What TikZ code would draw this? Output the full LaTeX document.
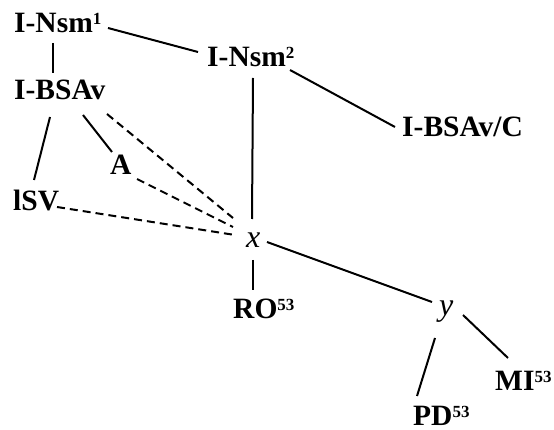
\documentclass[tikz,border=0pt]{standalone}
\usepackage{fontspec}
\setmainfont{Liberation Serif}
\usetikzlibrary{calc}
% small raised index numbers, top aligned with the capitals
\newcommand{\idx}[1]{\raisebox{8pt}{\fontsize{17}{18}\selectfont\bfseries #1}}
\tikzset{
  x=1pt, y=-1pt,
  lbl/.style={font=\fontsize{29.5}{31}\selectfont\bfseries, inner sep=0pt, anchor=base west},
  var/.style={font=\fontsize{32}{34}\selectfont\itshape, inner sep=0pt, anchor=base west},
  edge/.style={line width=2pt},
  dedge/.style={line width=2pt, dash pattern=on 8pt off 5pt},
}
\begin{document}
\begin{tikzpicture}
\useasboundingbox (0,0) rectangle (554,430);
% labels, placed by their baselines
\node[lbl] (nsm1)  at (14,33)   {I-Nsm\idx{1}};
\node[lbl] (bsav)  at (14,100)  {I-BSAv};
\node[lbl] (nsm2)  at (207,67)  {I-Nsm\idx{2}};
\node[lbl] (bsavc) at (402,137) {I-BSAv/C};
\node[lbl] (A)     at (110,175) {A};
\node[lbl] (lsv)   at (13,211)  {lSV};
\node[var] (x)     at (246,248) {x};
\node[lbl] (ro)    at (233,318) {RO\idx{53}};
\node[var] (y)     at (439,316) {y};
\node[lbl] (mi)    at (495,390) {MI\idx{53}};
\node[lbl] (pd)    at (413,425) {PD\idx{53}};
% solid connectors
\draw[edge] ($(nsm1.base west)+(39,10)$)  -- ($(bsav.base west)+(39,-27)$);
\draw[edge] ($(nsm1.base west)+(94,-5)$)  -- ($(nsm2.base west)+(-9,-15)$);
\draw[edge] ($(nsm2.base west)+(46,11)$)  -- ($(x.base west)+(6,-29)$);
\draw[edge] ($(nsm2.base west)+(83,3)$)   -- ($(bsavc.base west)+(-7,-10)$);
\draw[edge] ($(bsav.base west)+(36,17)$)  -- ($(lsv.base west)+(21,-31)$);
\draw[edge] ($(bsav.base west)+(69,15)$)  -- ($(A.base west)+(2,-23)$);
\draw[edge] ($(x.base west)+(7,12)$)      -- ($(ro.base west)+(20,-28)$);
\draw[edge] ($(x.base west)+(21,-6)$)     -- ($(y.base west)+(-7,-14)$);
\draw[edge] ($(y.base west)+(-4,22)$)     -- ($(pd.base west)+(4,-29)$);
\draw[edge] ($(y.base west)+(24,-1)$)     -- ($(mi.base west)+(13,-32)$);
% dashed connectors
\draw[dedge] ($(bsav.base west)+(93,14)$) -- ($(x.base west)+(-13,-30)$);
\draw[dedge] ($(A.base west)+(27,4)$)     -- ($(x.base west)+(-13,-21)$);
\draw[dedge] ($(lsv.base west)+(44,-4)$)  -- ($(x.base west)+(-11,-13)$);
\end{tikzpicture}
\end{document}
